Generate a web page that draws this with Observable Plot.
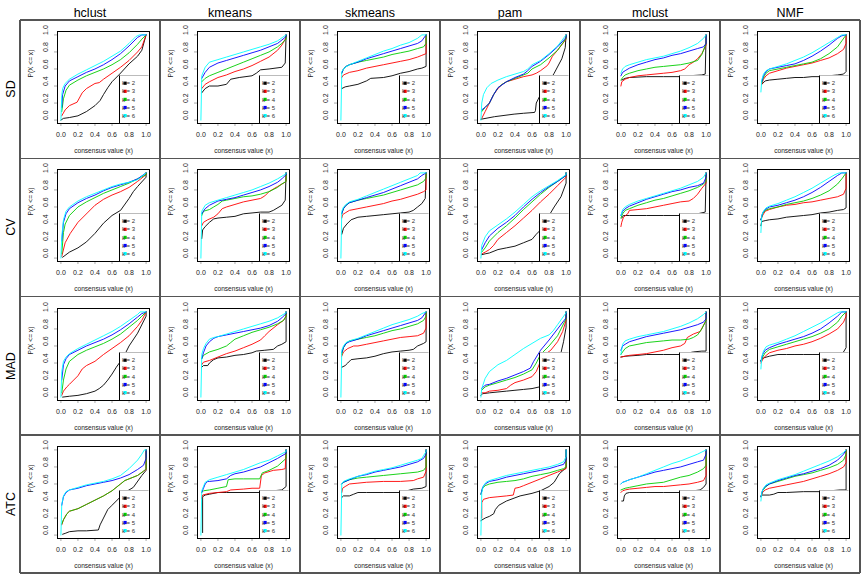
<!DOCTYPE html>
<html><head><meta charset="utf-8">
<script src="https://cdn.jsdelivr.net/npm/d3@7"></script>
<script src="https://cdn.jsdelivr.net/npm/@observablehq/plot@0.6"></script>
<style>
body{margin:0;background:#fff;}
#chart{position:relative;width:864px;height:576px;font-family:"Liberation Sans",Arial,Helvetica,sans-serif;overflow:hidden;background:#fff}
.hdr{position:absolute;top:3px;width:140px;text-align:center;font-size:12.5px;line-height:20px;color:#000}
.rowlab{position:absolute;left:11px;transform:translate(-50%,-50%) rotate(-90deg);white-space:nowrap;font-size:12.5px;color:#000}
.cell{position:absolute}
.gl{position:absolute;background:#555}
</style></head><body><div id="chart"></div>
<script>
const methods = ["hclust","kmeans","skmeans","pam","mclust","NMF"];
const partitions = ["SD","CV","MAD","ATC"];
const ks = [2,3,4,5,6];
const colors = ["#000000","#FF0000","#00CD00","#0000FF","#00FFFF"];
const xTicks = [0,0.2,0.4,0.6,0.8,1.0];
const yTicks = [0,0.2,0.4,0.6,0.8,1.0];
const xLabel = "consensus value (x)";
const yLabel = "P(X <= x)";

// Each panel: 5 curves (k = 2..6), flat x,y pairs
const SD_hclust = [
 [0,0, 0.03,0.02, 0.1,0.03, 0.2,0.05, 0.3,0.1, 0.4,0.17, 0.46,0.23, 0.5,0.3, 0.55,0.38, 0.6,0.45, 0.69,0.54, 0.8,0.66, 0.9,0.75, 0.95,0.82, 1,1],
 [0.01,0.05, 0.05,0.12, 0.1,0.17, 0.19,0.21, 0.25,0.32, 0.3,0.37, 0.4,0.43, 0.45,0.44, 0.5,0.48, 0.6,0.55, 0.7,0.62, 0.8,0.7, 0.9,0.8, 0.95,0.86, 1,1],
 [0.01,0.1, 0.03,0.25, 0.06,0.35, 0.1,0.41, 0.2,0.47, 0.3,0.52, 0.4,0.56, 0.5,0.6, 0.6,0.65, 0.7,0.71, 0.8,0.79, 0.9,0.89, 0.95,0.95, 1,1],
 [0.01,0.15, 0.02,0.3, 0.05,0.4, 0.1,0.46, 0.2,0.51, 0.3,0.56, 0.4,0.6, 0.5,0.65, 0.6,0.71, 0.7,0.78, 0.8,0.87, 0.9,0.97, 0.95,1, 1,1],
 [0,0, 0.01,0.29, 0.02,0.37, 0.05,0.43, 0.1,0.48, 0.2,0.54, 0.3,0.59, 0.4,0.64, 0.5,0.69, 0.6,0.75, 0.7,0.81, 0.8,0.9, 0.88,0.98, 0.92,1, 1,1]
];
const SD_kmeans = [
 [0.01,0.32, 0.05,0.37, 0.1,0.4, 0.2,0.4, 0.3,0.42, 0.35,0.48, 0.45,0.5, 0.6,0.52, 0.65,0.55, 0.7,0.59, 0.8,0.6, 0.95,0.62, 0.99,0.67, 1,1],
 [0.01,0.37, 0.05,0.42, 0.1,0.45, 0.2,0.5, 0.3,0.53, 0.4,0.57, 0.5,0.6, 0.6,0.64, 0.7,0.69, 0.8,0.74, 0.9,0.82, 0.95,0.88, 1,0.97, 1,1],
 [0.01,0.45, 0.05,0.49, 0.1,0.52, 0.2,0.56, 0.3,0.6, 0.4,0.64, 0.5,0.68, 0.6,0.72, 0.7,0.76, 0.8,0.8, 0.9,0.86, 0.95,0.9, 1,0.95, 1,1],
 [0.01,0.49, 0.05,0.56, 0.1,0.62, 0.2,0.67, 0.3,0.7, 0.4,0.73, 0.5,0.76, 0.6,0.79, 0.7,0.82, 0.8,0.86, 0.9,0.9, 1,0.98, 1,1],
 [0,0, 0.01,0.52, 0.05,0.62, 0.1,0.68, 0.2,0.71, 0.3,0.74, 0.4,0.77, 0.5,0.8, 0.6,0.83, 0.7,0.86, 0.8,0.89, 0.9,0.93, 1,1]
];
const SD_skmeans = [
 [0.01,0.37, 0.05,0.39, 0.1,0.4, 0.2,0.42, 0.3,0.46, 0.35,0.49, 0.5,0.5, 0.6,0.52, 0.7,0.55, 0.8,0.57, 0.9,0.6, 0.95,0.61, 1,0.63, 1,1],
 [0.01,0.5, 0.03,0.53, 0.1,0.56, 0.2,0.58, 0.3,0.61, 0.4,0.63, 0.5,0.65, 0.6,0.67, 0.7,0.69, 0.8,0.71, 0.9,0.74, 0.95,0.76, 1,0.78, 1,1],
 [0.01,0.55, 0.03,0.6, 0.06,0.63, 0.1,0.65, 0.2,0.68, 0.3,0.7, 0.4,0.72, 0.5,0.74, 0.6,0.77, 0.7,0.79, 0.8,0.81, 0.9,0.84, 0.97,0.86, 1,0.9, 1,1],
 [0.01,0.55, 0.03,0.6, 0.06,0.63, 0.1,0.65, 0.2,0.68, 0.3,0.72, 0.4,0.75, 0.5,0.78, 0.6,0.81, 0.7,0.84, 0.8,0.87, 0.9,0.9, 0.95,0.93, 1,1],
 [0,0, 0.01,0.57, 0.05,0.62, 0.1,0.65, 0.2,0.69, 0.3,0.73, 0.4,0.77, 0.5,0.81, 0.6,0.84, 0.7,0.88, 0.8,0.91, 0.9,0.96, 0.95,1, 1,1]
];
const SD_pam = [
 [0,0.01, 0.16,0.04, 0.39,0.07, 0.5,0.08, 0.63,0.09, 0.64,0.11, 0.65,0.2, 0.7,0.3, 0.8,0.45, 0.86,0.55, 0.95,0.72, 0.99,0.85, 1,1],
 [0.01,0.02, 0.05,0.1, 0.1,0.2, 0.15,0.3, 0.2,0.37, 0.25,0.42, 0.3,0.45, 0.4,0.48, 0.5,0.51, 0.6,0.53, 0.65,0.55, 0.7,0.58, 0.78,0.64, 0.8,0.67, 0.84,0.75, 0.9,0.82, 1,0.95, 1,1],
 [0.01,0.1, 0.05,0.15, 0.1,0.2, 0.15,0.3, 0.2,0.38, 0.25,0.42, 0.3,0.45, 0.4,0.49, 0.5,0.53, 0.55,0.55, 0.6,0.6, 0.7,0.65, 0.8,0.73, 0.9,0.82, 1,0.96, 1,1],
 [0.01,0.12, 0.05,0.15, 0.1,0.2, 0.15,0.3, 0.2,0.38, 0.3,0.45, 0.4,0.5, 0.5,0.54, 0.55,0.58, 0.6,0.63, 0.7,0.69, 0.8,0.77, 0.9,0.86, 1,0.97, 1,1],
 [0,0, 0.01,0.2, 0.03,0.3, 0.07,0.38, 0.12,0.43, 0.2,0.47, 0.3,0.51, 0.4,0.54, 0.5,0.57, 0.55,0.6, 0.6,0.65, 0.7,0.7, 0.8,0.78, 0.9,0.87, 1,1]
];
const SD_mclust = [
 [0.01,0.47, 0.05,0.49, 0.1,0.5, 0.3,0.51, 0.5,0.51, 0.7,0.51, 0.8,0.52, 0.95,0.53, 0.99,0.54, 1,1],
 [0,0.4, 0.01,0.45, 0.05,0.48, 0.1,0.5, 0.2,0.52, 0.3,0.53, 0.4,0.54, 0.5,0.55, 0.6,0.56, 0.7,0.58, 0.75,0.6, 0.8,0.65, 0.85,0.68, 0.9,0.72, 0.95,0.78, 1,0.88, 1,1],
 [0,0.47, 0.02,0.5, 0.05,0.53, 0.1,0.55, 0.2,0.58, 0.3,0.6, 0.4,0.62, 0.5,0.63, 0.6,0.64, 0.7,0.65, 0.8,0.67, 0.9,0.7, 0.95,0.77, 1,0.9, 1,1],
 [0,0.52, 0.02,0.56, 0.05,0.58, 0.1,0.61, 0.2,0.65, 0.3,0.68, 0.4,0.71, 0.5,0.73, 0.6,0.76, 0.7,0.78, 0.8,0.81, 0.9,0.84, 0.97,0.86, 1,0.9, 1,1],
 [0,0.55, 0.02,0.6, 0.05,0.63, 0.1,0.65, 0.2,0.68, 0.3,0.71, 0.4,0.73, 0.5,0.75, 0.6,0.78, 0.7,0.81, 0.8,0.85, 0.9,0.9, 0.97,0.96, 1,1]
];
const SD_NMF = [
 [0.01,0.42, 0.05,0.46, 0.1,0.47, 0.2,0.48, 0.3,0.49, 0.4,0.5, 0.5,0.5, 0.6,0.51, 0.7,0.51, 0.8,0.52, 0.9,0.53, 0.97,0.54, 1,0.57, 1,1],
 [0.01,0.42, 0.03,0.48, 0.06,0.52, 0.1,0.55, 0.2,0.58, 0.3,0.61, 0.4,0.63, 0.5,0.65, 0.6,0.67, 0.7,0.7, 0.8,0.73, 0.9,0.78, 0.97,0.83, 1,0.9, 1,1],
 [0.01,0.44, 0.03,0.5, 0.06,0.55, 0.1,0.58, 0.2,0.6, 0.3,0.62, 0.4,0.64, 0.5,0.66, 0.6,0.68, 0.7,0.72, 0.8,0.78, 0.9,0.86, 0.95,0.93, 1,1],
 [0.01,0.45, 0.03,0.52, 0.06,0.57, 0.1,0.6, 0.2,0.62, 0.3,0.64, 0.4,0.66, 0.5,0.7, 0.6,0.75, 0.7,0.81, 0.8,0.88, 0.9,0.96, 0.95,0.99, 1,1],
 [0,0.33, 0.01,0.47, 0.03,0.54, 0.06,0.58, 0.1,0.6, 0.2,0.63, 0.3,0.66, 0.4,0.7, 0.5,0.74, 0.6,0.79, 0.7,0.85, 0.8,0.91, 0.9,0.97, 0.95,1, 1,1]
];
const CV_hclust = [
 [0.02,0.01, 0.1,0.07, 0.2,0.12, 0.3,0.19, 0.4,0.29, 0.5,0.41, 0.6,0.5, 0.7,0.56, 0.8,0.7, 0.85,0.78, 0.9,0.84, 1,0.95, 1,1],
 [0.01,0.02, 0.05,0.18, 0.11,0.29, 0.2,0.42, 0.31,0.53, 0.4,0.62, 0.5,0.69, 0.6,0.74, 0.7,0.78, 0.8,0.83, 0.9,0.9, 1,0.98, 1,1],
 [0.01,0.05, 0.03,0.3, 0.05,0.4, 0.1,0.5, 0.2,0.6, 0.3,0.66, 0.4,0.71, 0.5,0.76, 0.6,0.8, 0.7,0.84, 0.8,0.88, 0.9,0.93, 1,0.98, 1,1],
 [0.01,0.2, 0.03,0.42, 0.06,0.52, 0.1,0.58, 0.2,0.65, 0.3,0.7, 0.4,0.74, 0.5,0.79, 0.6,0.83, 0.7,0.86, 0.8,0.89, 0.9,0.93, 1,1],
 [0,0, 0.01,0.25, 0.03,0.45, 0.06,0.55, 0.1,0.6, 0.2,0.67, 0.3,0.72, 0.4,0.76, 0.5,0.8, 0.6,0.84, 0.7,0.87, 0.8,0.89, 0.9,0.92, 1,1]
];
const CV_kmeans = [
 [0.01,0.23, 0.02,0.33, 0.05,0.37, 0.1,0.42, 0.15,0.46, 0.2,0.47, 0.3,0.48, 0.4,0.49, 0.5,0.52, 0.6,0.53, 0.7,0.54, 0.8,0.54, 0.85,0.56, 0.95,0.62, 0.99,0.68, 1,1],
 [0.01,0.38, 0.03,0.42, 0.08,0.45, 0.15,0.48, 0.2,0.52, 0.25,0.58, 0.3,0.6, 0.4,0.63, 0.5,0.66, 0.6,0.68, 0.7,0.7, 0.75,0.73, 0.8,0.78, 0.9,0.84, 0.97,0.88, 1,0.9, 1,1],
 [0.01,0.5, 0.03,0.55, 0.1,0.57, 0.15,0.6, 0.2,0.63, 0.25,0.67, 0.3,0.68, 0.4,0.7, 0.5,0.72, 0.6,0.73, 0.7,0.75, 0.8,0.78, 0.9,0.83, 0.95,0.87, 1,0.9, 1,1],
 [0.01,0.52, 0.05,0.58, 0.1,0.62, 0.2,0.67, 0.3,0.69, 0.4,0.71, 0.5,0.74, 0.6,0.77, 0.7,0.8, 0.8,0.84, 0.9,0.89, 0.95,0.93, 1,0.98, 1,1],
 [0,0, 0.01,0.55, 0.05,0.62, 0.1,0.65, 0.2,0.68, 0.3,0.71, 0.4,0.74, 0.5,0.77, 0.6,0.8, 0.7,0.84, 0.8,0.88, 0.9,0.93, 1,0.99, 1,1]
];
const CV_skmeans = [
 [0.01,0.28, 0.03,0.35, 0.07,0.4, 0.12,0.45, 0.2,0.48, 0.3,0.49, 0.4,0.5, 0.5,0.51, 0.6,0.52, 0.7,0.53, 0.8,0.54, 0.85,0.56, 0.9,0.6, 0.95,0.64, 0.99,0.7, 1,1],
 [0.01,0.47, 0.02,0.51, 0.05,0.53, 0.1,0.56, 0.2,0.58, 0.3,0.6, 0.4,0.62, 0.5,0.64, 0.6,0.67, 0.7,0.69, 0.8,0.72, 0.9,0.75, 0.97,0.78, 1,0.8, 1,1],
 [0.01,0.52, 0.03,0.58, 0.06,0.62, 0.1,0.65, 0.2,0.68, 0.3,0.7, 0.4,0.72, 0.5,0.74, 0.6,0.77, 0.7,0.8, 0.8,0.83, 0.9,0.86, 0.97,0.9, 1,0.94, 1,1],
 [0.01,0.52, 0.03,0.58, 0.06,0.62, 0.1,0.65, 0.2,0.68, 0.3,0.71, 0.4,0.74, 0.5,0.77, 0.6,0.81, 0.7,0.85, 0.8,0.89, 0.9,0.93, 0.95,0.97, 1,1],
 [0,0, 0.01,0.55, 0.03,0.6, 0.06,0.63, 0.1,0.66, 0.2,0.69, 0.3,0.73, 0.4,0.77, 0.5,0.81, 0.6,0.85, 0.7,0.89, 0.8,0.93, 0.9,0.97, 0.93,1, 1,1]
];
const CV_pam = [
 [0.01,0.04, 0.05,0.05, 0.1,0.06, 0.2,0.1, 0.3,0.12, 0.4,0.14, 0.5,0.18, 0.6,0.22, 0.65,0.28, 0.7,0.33, 0.75,0.42, 0.8,0.5, 0.86,0.6, 0.94,0.72, 1,0.88, 1,1],
 [0.01,0.05, 0.05,0.07, 0.1,0.1, 0.15,0.15, 0.2,0.22, 0.3,0.3, 0.4,0.38, 0.5,0.47, 0.6,0.56, 0.7,0.66, 0.8,0.75, 0.9,0.85, 1,0.95, 1,1],
 [0.01,0.07, 0.05,0.12, 0.1,0.2, 0.2,0.3, 0.3,0.38, 0.4,0.47, 0.5,0.57, 0.6,0.66, 0.7,0.75, 0.8,0.83, 0.9,0.9, 1,0.97, 1,1],
 [0.01,0.1, 0.05,0.18, 0.1,0.26, 0.2,0.35, 0.3,0.42, 0.4,0.5, 0.5,0.6, 0.6,0.69, 0.7,0.77, 0.8,0.84, 0.9,0.9, 1,0.97, 1,1],
 [0,0, 0.01,0.15, 0.05,0.25, 0.1,0.32, 0.2,0.39, 0.3,0.46, 0.4,0.54, 0.5,0.63, 0.6,0.72, 0.7,0.79, 0.8,0.85, 0.9,0.91, 1,0.98, 1,1]
];
const CV_mclust = [
 [0.01,0.47, 0.03,0.5, 0.1,0.5, 0.3,0.5, 0.5,0.5, 0.7,0.5, 0.9,0.52, 0.99,0.54, 1,1],
 [0,0.37, 0.01,0.42, 0.03,0.48, 0.08,0.52, 0.1,0.56, 0.2,0.57, 0.3,0.58, 0.4,0.6, 0.5,0.62, 0.6,0.64, 0.7,0.66, 0.8,0.67, 0.85,0.7, 0.9,0.75, 0.95,0.82, 1,0.88, 1,1],
 [0,0.47, 0.02,0.52, 0.05,0.56, 0.1,0.58, 0.2,0.62, 0.3,0.65, 0.4,0.68, 0.5,0.7, 0.6,0.73, 0.7,0.76, 0.8,0.79, 0.9,0.83, 0.97,0.87, 1,0.9, 1,1],
 [0,0.5, 0.02,0.55, 0.05,0.58, 0.1,0.61, 0.2,0.65, 0.3,0.69, 0.4,0.72, 0.5,0.75, 0.6,0.78, 0.7,0.8, 0.8,0.83, 0.9,0.85, 0.97,0.88, 1,0.95, 1,1],
 [0,0.5, 0.02,0.57, 0.05,0.6, 0.1,0.63, 0.2,0.67, 0.3,0.7, 0.4,0.73, 0.5,0.76, 0.6,0.79, 0.7,0.82, 0.8,0.86, 0.9,0.9, 0.97,0.95, 1,1]
];
const CV_NMF = [
 [0,0.38, 0.01,0.43, 0.05,0.44, 0.1,0.45, 0.2,0.46, 0.3,0.48, 0.4,0.49, 0.5,0.5, 0.6,0.51, 0.7,0.53, 0.8,0.54, 0.9,0.56, 0.97,0.57, 1,0.59, 1,1],
 [0,0.45, 0.02,0.5, 0.05,0.55, 0.1,0.57, 0.2,0.6, 0.3,0.62, 0.4,0.63, 0.5,0.65, 0.6,0.66, 0.7,0.68, 0.8,0.7, 0.9,0.72, 0.97,0.75, 1,0.82, 1,1],
 [0,0.45, 0.02,0.52, 0.05,0.56, 0.1,0.58, 0.2,0.6, 0.3,0.63, 0.4,0.65, 0.5,0.67, 0.6,0.7, 0.7,0.74, 0.8,0.79, 0.9,0.87, 0.95,0.93, 1,1],
 [0,0.45, 0.02,0.53, 0.05,0.57, 0.1,0.6, 0.2,0.62, 0.3,0.65, 0.4,0.68, 0.5,0.72, 0.6,0.77, 0.7,0.83, 0.8,0.9, 0.9,0.97, 0.95,1, 1,1],
 [0,0.3, 0.01,0.5, 0.03,0.55, 0.06,0.59, 0.1,0.61, 0.2,0.64, 0.3,0.68, 0.4,0.72, 0.5,0.77, 0.6,0.82, 0.7,0.88, 0.8,0.94, 0.87,0.98, 0.92,1, 1,1]
];
const MAD_hclust = [
 [0.02,0, 0.1,0.01, 0.2,0.02, 0.3,0.04, 0.4,0.07, 0.45,0.1, 0.5,0.14, 0.55,0.2, 0.6,0.27, 0.65,0.35, 0.7,0.42, 0.75,0.5, 0.8,0.6, 0.9,0.75, 1,0.95, 1,1],
 [0.01,0.02, 0.03,0.07, 0.07,0.12, 0.1,0.15, 0.15,0.2, 0.2,0.25, 0.25,0.33, 0.3,0.37, 0.4,0.42, 0.5,0.5, 0.6,0.57, 0.7,0.64, 0.8,0.72, 0.9,0.83, 0.95,0.9, 1,1],
 [0.01,0.05, 0.03,0.2, 0.06,0.33, 0.1,0.42, 0.2,0.5, 0.3,0.55, 0.4,0.59, 0.5,0.63, 0.6,0.68, 0.7,0.74, 0.8,0.82, 0.9,0.9, 0.95,0.95, 1,1],
 [0.01,0.2, 0.03,0.38, 0.06,0.45, 0.1,0.5, 0.2,0.55, 0.3,0.6, 0.4,0.64, 0.5,0.68, 0.6,0.73, 0.7,0.79, 0.8,0.86, 0.9,0.94, 0.95,0.98, 1,1],
 [0,0, 0.01,0.3, 0.03,0.42, 0.06,0.47, 0.1,0.51, 0.2,0.57, 0.3,0.62, 0.4,0.67, 0.5,0.72, 0.6,0.77, 0.7,0.83, 0.8,0.9, 0.9,0.97, 0.93,1, 1,1]
];
const MAD_kmeans = [
 [0.01,0.35, 0.03,0.37, 0.08,0.37, 0.1,0.4, 0.15,0.44, 0.2,0.46, 0.3,0.47, 0.4,0.49, 0.5,0.5, 0.6,0.52, 0.65,0.54, 0.75,0.55, 0.85,0.56, 0.9,0.6, 0.95,0.62, 1,0.65, 1,1],
 [0.01,0.38, 0.03,0.41, 0.1,0.43, 0.2,0.47, 0.3,0.51, 0.4,0.54, 0.5,0.58, 0.6,0.62, 0.7,0.67, 0.75,0.72, 0.8,0.77, 0.9,0.85, 0.97,0.9, 1,0.95, 1,1],
 [0.01,0.45, 0.03,0.49, 0.1,0.53, 0.2,0.56, 0.3,0.6, 0.35,0.64, 0.4,0.68, 0.5,0.72, 0.6,0.76, 0.7,0.79, 0.8,0.82, 0.9,0.86, 0.97,0.9, 1,0.95, 1,1],
 [0.01,0.45, 0.03,0.52, 0.06,0.6, 0.1,0.65, 0.15,0.69, 0.2,0.71, 0.3,0.73, 0.4,0.75, 0.5,0.77, 0.6,0.79, 0.7,0.81, 0.8,0.84, 0.9,0.89, 0.95,0.93, 1,0.98, 1,1],
 [0,0, 0.01,0.5, 0.03,0.57, 0.06,0.63, 0.1,0.68, 0.15,0.7, 0.2,0.71, 0.3,0.74, 0.4,0.77, 0.5,0.8, 0.6,0.83, 0.7,0.86, 0.8,0.89, 0.9,0.93, 1,0.99, 1,1]
];
const MAD_skmeans = [
 [0.01,0.35, 0.05,0.37, 0.08,0.4, 0.12,0.44, 0.2,0.45, 0.3,0.46, 0.4,0.48, 0.5,0.51, 0.6,0.53, 0.7,0.54, 0.8,0.55, 0.85,0.56, 0.9,0.6, 0.97,0.63, 1,0.65, 1,1],
 [0.01,0.48, 0.03,0.53, 0.08,0.57, 0.15,0.6, 0.2,0.6, 0.3,0.62, 0.4,0.64, 0.5,0.66, 0.6,0.68, 0.7,0.7, 0.8,0.71, 0.9,0.72, 0.97,0.75, 1,0.81, 1,1],
 [0.01,0.5, 0.03,0.58, 0.06,0.63, 0.1,0.66, 0.2,0.68, 0.3,0.7, 0.4,0.72, 0.5,0.75, 0.6,0.78, 0.7,0.8, 0.8,0.83, 0.9,0.86, 0.97,0.9, 1,0.95, 1,1],
 [0.01,0.52, 0.03,0.58, 0.06,0.63, 0.1,0.65, 0.2,0.68, 0.3,0.72, 0.4,0.75, 0.5,0.78, 0.6,0.81, 0.7,0.84, 0.8,0.87, 0.9,0.9, 0.95,0.93, 1,1],
 [0,0, 0.01,0.55, 0.03,0.6, 0.06,0.64, 0.1,0.66, 0.2,0.69, 0.3,0.73, 0.4,0.77, 0.5,0.81, 0.6,0.85, 0.7,0.88, 0.8,0.91, 0.9,0.95, 0.95,0.98, 1,1]
];
const MAD_pam = [
 [0,0.02, 0.02,0.04, 0.1,0.05, 0.2,0.06, 0.3,0.07, 0.4,0.08, 0.5,0.09, 0.6,0.1, 0.69,0.12, 0.8,0.2, 0.9,0.35, 0.94,0.52, 0.97,0.65, 1,0.82, 1,1],
 [0.01,0.05, 0.05,0.05, 0.1,0.07, 0.2,0.08, 0.3,0.1, 0.35,0.14, 0.4,0.17, 0.5,0.2, 0.6,0.24, 0.65,0.3, 0.7,0.42, 0.75,0.5, 0.82,0.55, 0.9,0.65, 0.96,0.77, 1,0.9, 1,1],
 [0.01,0.08, 0.05,0.12, 0.1,0.14, 0.2,0.17, 0.3,0.2, 0.4,0.23, 0.5,0.27, 0.6,0.32, 0.65,0.4, 0.7,0.5, 0.8,0.6, 0.9,0.72, 1,0.92, 1,1],
 [0.01,0.1, 0.05,0.14, 0.1,0.15, 0.2,0.19, 0.3,0.22, 0.4,0.26, 0.5,0.3, 0.58,0.34, 0.62,0.42, 0.7,0.55, 0.8,0.67, 0.9,0.8, 1,0.93, 1,1],
 [0,0, 0.01,0.1, 0.05,0.22, 0.1,0.3, 0.2,0.38, 0.3,0.43, 0.4,0.5, 0.5,0.57, 0.6,0.63, 0.7,0.69, 0.8,0.73, 0.85,0.78, 0.9,0.85, 1,0.99, 1,1]
];
const MAD_mclust = [
 [0,0.47, 0.05,0.48, 0.2,0.49, 0.3,0.5, 0.5,0.5, 0.7,0.5, 0.85,0.53, 0.95,0.54, 1,0.54, 1,1],
 [0,0.47, 0.05,0.48, 0.1,0.49, 0.2,0.5, 0.3,0.51, 0.4,0.53, 0.5,0.55, 0.6,0.58, 0.7,0.6, 0.75,0.63, 0.78,0.7, 0.85,0.74, 0.93,0.77, 1,0.9, 1,1],
 [0,0.5, 0.02,0.53, 0.05,0.57, 0.1,0.6, 0.2,0.62, 0.3,0.64, 0.4,0.65, 0.5,0.66, 0.6,0.67, 0.7,0.67, 0.8,0.68, 0.85,0.7, 0.9,0.73, 0.95,0.8, 1,0.9, 1,1],
 [0,0.55, 0.02,0.6, 0.05,0.62, 0.1,0.65, 0.2,0.68, 0.3,0.71, 0.4,0.73, 0.5,0.75, 0.6,0.77, 0.7,0.79, 0.8,0.82, 0.9,0.85, 0.97,0.88, 1,0.92, 1,1],
 [0,0.5, 0.02,0.62, 0.05,0.66, 0.1,0.68, 0.2,0.71, 0.3,0.73, 0.4,0.75, 0.5,0.77, 0.6,0.8, 0.7,0.83, 0.8,0.87, 0.9,0.92, 0.97,0.97, 1,1]
];
const MAD_NMF = [
 [0,0.43, 0.03,0.46, 0.1,0.48, 0.2,0.5, 0.3,0.5, 0.4,0.5, 0.5,0.5, 0.6,0.5, 0.7,0.5, 0.93,0.5, 0.97,0.53, 1,0.58, 1,1],
 [0,0.4, 0.02,0.44, 0.05,0.48, 0.1,0.52, 0.2,0.55, 0.3,0.57, 0.4,0.6, 0.5,0.62, 0.6,0.65, 0.7,0.69, 0.8,0.74, 0.9,0.8, 0.97,0.88, 1,0.95, 1,1],
 [0,0.42, 0.02,0.47, 0.05,0.52, 0.1,0.56, 0.2,0.59, 0.3,0.62, 0.4,0.65, 0.5,0.68, 0.6,0.71, 0.7,0.75, 0.8,0.8, 0.9,0.88, 0.95,0.95, 1,1],
 [0,0.42, 0.02,0.5, 0.05,0.55, 0.1,0.58, 0.2,0.62, 0.3,0.65, 0.4,0.68, 0.5,0.71, 0.6,0.75, 0.7,0.8, 0.8,0.87, 0.9,0.95, 0.95,1, 1,1],
 [0,0.33, 0.01,0.47, 0.03,0.54, 0.06,0.59, 0.1,0.61, 0.2,0.64, 0.3,0.68, 0.4,0.72, 0.5,0.77, 0.6,0.82, 0.7,0.87, 0.8,0.93, 0.9,0.99, 0.93,1, 1,1]
];
const ATC_hclust = [
 [0.02,0.01, 0.05,0.02, 0.1,0.04, 0.2,0.05, 0.3,0.05, 0.44,0.06, 0.46,0.12, 0.5,0.2, 0.55,0.3, 0.6,0.35, 0.65,0.4, 0.7,0.45, 0.75,0.5, 0.85,0.56, 0.95,0.7, 1,0.76, 1,1],
 [0.01,0.12, 0.03,0.18, 0.07,0.25, 0.1,0.28, 0.2,0.31, 0.3,0.36, 0.4,0.41, 0.5,0.46, 0.6,0.52, 0.7,0.6, 0.75,0.64, 0.8,0.66, 0.9,0.7, 0.97,0.75, 1,0.77, 1,1],
 [0.01,0.13, 0.03,0.18, 0.07,0.25, 0.1,0.28, 0.2,0.31, 0.3,0.36, 0.4,0.41, 0.5,0.46, 0.6,0.52, 0.7,0.6, 0.75,0.64, 0.8,0.66, 0.9,0.7, 0.97,0.75, 1,0.78, 1,1],
 [0.01,0.35, 0.03,0.45, 0.06,0.5, 0.1,0.53, 0.2,0.55, 0.3,0.58, 0.4,0.6, 0.5,0.62, 0.6,0.64, 0.7,0.67, 0.8,0.71, 0.9,0.77, 0.97,0.82, 1,0.9, 1,1],
 [0,0, 0.01,0.36, 0.03,0.46, 0.06,0.51, 0.1,0.53, 0.2,0.56, 0.3,0.59, 0.4,0.61, 0.5,0.63, 0.6,0.66, 0.7,0.7, 0.8,0.78, 0.9,0.88, 0.95,0.95, 0.98,1, 1,1]
];
const ATC_kmeans = [
 [0.02,0.03, 0.02,0.45, 0.05,0.47, 0.1,0.48, 0.2,0.5, 0.3,0.5, 0.7,0.5, 0.85,0.52, 0.95,0.53, 1,0.57, 1,1],
 [0.01,0.43, 0.02,0.47, 0.1,0.49, 0.2,0.5, 0.3,0.51, 0.35,0.53, 0.5,0.54, 0.6,0.55, 0.69,0.55, 0.71,0.7, 0.75,0.73, 0.85,0.76, 0.95,0.77, 0.99,0.78, 1,1],
 [0.01,0.5, 0.03,0.52, 0.1,0.53, 0.2,0.55, 0.3,0.57, 0.32,0.65, 0.4,0.66, 0.5,0.66, 0.6,0.66, 0.69,0.66, 0.72,0.73, 0.8,0.76, 0.9,0.81, 1,0.9, 1,1],
 [0.01,0.5, 0.03,0.55, 0.05,0.6, 0.08,0.63, 0.1,0.63, 0.2,0.64, 0.3,0.66, 0.35,0.7, 0.4,0.72, 0.5,0.74, 0.6,0.77, 0.7,0.8, 0.8,0.85, 0.9,0.9, 1,0.96, 1,1],
 [0,0, 0.01,0.52, 0.05,0.62, 0.1,0.65, 0.2,0.68, 0.3,0.71, 0.4,0.74, 0.5,0.77, 0.6,0.81, 0.7,0.85, 0.8,0.88, 0.9,0.93, 1,0.98, 1,1]
];
const ATC_skmeans = [
 [0.01,0.44, 0.03,0.46, 0.1,0.46, 0.15,0.48, 0.2,0.5, 0.3,0.5, 0.5,0.5, 0.7,0.5, 0.85,0.54, 0.95,0.55, 1,0.57, 1,1],
 [0.01,0.5, 0.02,0.55, 0.05,0.57, 0.1,0.6, 0.2,0.61, 0.3,0.62, 0.5,0.63, 0.7,0.63, 0.85,0.64, 0.9,0.66, 0.97,0.68, 1,0.75, 1,1],
 [0.01,0.6, 0.03,0.62, 0.1,0.65, 0.2,0.67, 0.3,0.68, 0.4,0.69, 0.5,0.7, 0.6,0.71, 0.7,0.72, 0.8,0.73, 0.9,0.74, 0.97,0.76, 1,0.8, 1,1],
 [0.01,0.6, 0.03,0.62, 0.1,0.65, 0.2,0.69, 0.3,0.71, 0.4,0.74, 0.5,0.76, 0.6,0.78, 0.7,0.8, 0.8,0.83, 0.9,0.86, 0.97,0.9, 1,0.95, 1,1],
 [0,0, 0.01,0.6, 0.03,0.63, 0.1,0.66, 0.2,0.69, 0.3,0.72, 0.4,0.75, 0.5,0.77, 0.6,0.79, 0.7,0.82, 0.8,0.85, 0.9,0.88, 0.95,0.9, 1,0.98, 1,1]
];
const ATC_pam = [
 [0,0.17, 0.05,0.2, 0.1,0.22, 0.15,0.25, 0.17,0.3, 0.21,0.35, 0.3,0.4, 0.46,0.46, 0.6,0.49, 0.7,0.52, 0.8,0.57, 0.86,0.62, 0.92,0.72, 1,0.79, 1,1],
 [0.01,0.2, 0.01,0.38, 0.03,0.42, 0.1,0.44, 0.2,0.45, 0.3,0.46, 0.38,0.47, 0.4,0.55, 0.45,0.56, 0.5,0.58, 0.6,0.62, 0.7,0.66, 0.8,0.7, 0.9,0.74, 1,0.78, 1,1],
 [0,0.48, 0.02,0.55, 0.05,0.58, 0.1,0.6, 0.2,0.62, 0.3,0.63, 0.4,0.64, 0.5,0.66, 0.6,0.69, 0.7,0.71, 0.8,0.73, 0.9,0.76, 0.97,0.78, 1,0.8, 1,1],
 [0,0.48, 0.02,0.56, 0.05,0.6, 0.1,0.63, 0.2,0.65, 0.3,0.68, 0.4,0.7, 0.5,0.72, 0.6,0.74, 0.7,0.76, 0.8,0.78, 0.9,0.81, 0.97,0.83, 1,0.88, 1,1],
 [0,0, 0.01,0.5, 0.03,0.58, 0.06,0.62, 0.1,0.64, 0.2,0.67, 0.3,0.7, 0.4,0.72, 0.5,0.74, 0.6,0.76, 0.7,0.78, 0.8,0.8, 0.9,0.83, 0.97,0.86, 1,0.92, 1,1]
];
const ATC_mclust = [
 [0.01,0.4, 0.03,0.4, 0.04,0.46, 0.06,0.49, 0.1,0.5, 0.3,0.5, 0.5,0.5, 0.7,0.5, 0.93,0.53, 0.97,0.56, 1,0.6, 1,1],
 [0,0.5, 0.02,0.52, 0.05,0.53, 0.1,0.54, 0.2,0.55, 0.3,0.56, 0.4,0.57, 0.5,0.57, 0.6,0.58, 0.7,0.59, 0.8,0.6, 0.9,0.62, 0.97,0.64, 1,0.7, 1,1],
 [0,0.53, 0.05,0.55, 0.1,0.56, 0.2,0.58, 0.3,0.6, 0.4,0.61, 0.5,0.62, 0.6,0.65, 0.7,0.68, 0.8,0.7, 0.9,0.74, 0.97,0.78, 1,0.82, 1,1],
 [0,0.6, 0.02,0.62, 0.05,0.63, 0.1,0.65, 0.2,0.68, 0.3,0.71, 0.4,0.74, 0.5,0.76, 0.6,0.78, 0.7,0.8, 0.8,0.83, 0.9,0.86, 0.97,0.88, 1,0.95, 1,1],
 [0,0.6, 0.02,0.62, 0.05,0.63, 0.1,0.65, 0.2,0.68, 0.3,0.72, 0.4,0.76, 0.5,0.8, 0.6,0.84, 0.7,0.87, 0.8,0.91, 0.9,0.95, 1,1]
];
const ATC_NMF = [
 [0.01,0.47, 0.1,0.47, 0.15,0.48, 0.2,0.5, 0.3,0.5, 0.5,0.51, 0.7,0.51, 0.93,0.53, 1,0.53, 1,1],
 [0,0.45, 0.02,0.5, 0.05,0.53, 0.1,0.55, 0.2,0.57, 0.3,0.59, 0.4,0.61, 0.5,0.63, 0.6,0.66, 0.7,0.69, 0.8,0.72, 0.9,0.76, 0.97,0.8, 1,0.85, 1,1],
 [0,0.45, 0.02,0.52, 0.05,0.56, 0.1,0.6, 0.2,0.63, 0.3,0.66, 0.4,0.69, 0.5,0.71, 0.6,0.73, 0.7,0.76, 0.8,0.79, 0.9,0.83, 0.97,0.88, 1,0.95, 1,1],
 [0,0.45, 0.02,0.53, 0.05,0.57, 0.1,0.6, 0.2,0.64, 0.3,0.67, 0.4,0.7, 0.5,0.72, 0.6,0.75, 0.7,0.78, 0.8,0.82, 0.9,0.88, 0.97,0.95, 1,1],
 [0,0.4, 0.01,0.5, 0.03,0.55, 0.06,0.59, 0.1,0.61, 0.2,0.65, 0.3,0.68, 0.4,0.71, 0.5,0.75, 0.6,0.79, 0.7,0.83, 0.8,0.87, 0.9,0.92, 0.97,0.97, 1,1]
];

const panels = {
  SD: [SD_hclust, SD_kmeans, SD_skmeans, SD_pam, SD_mclust, SD_NMF],
  CV: [CV_hclust, CV_kmeans, CV_skmeans, CV_pam, CV_mclust, CV_NMF],
  MAD: [MAD_hclust, MAD_kmeans, MAD_skmeans, MAD_pam, MAD_mclust, MAD_NMF],
  ATC: [ATC_hclust, ATC_kmeans, ATC_skmeans, ATC_pam, ATC_mclust, ATC_NMF]
};

const FONT = '"Liberation Sans", Arial, Helvetica, sans-serif';
const chart = document.getElementById("chart");
const X0 = 20, Y0 = 20, CW = 140, CH = 138.25;
const fmt = d3.format(".1f");

function panel(curves) {
  const rows = [];
  curves.forEach((c, i) => {
    for (let j = 0; j < c.length; j += 2) rows.push({x: c[j], y: c[j + 1], k: ks[i]});
  });
  const W = 140, H = 138, mL = 37, mR = 11, mT = 11, mB = 35;
  const svg = Plot.plot({
    width: W, height: H, marginLeft: mL, marginRight: mR, marginTop: mT, marginBottom: mB,
    style: {background: "transparent", fontFamily: FONT, overflow: "visible"},
    x: {domain: [-0.04, 1.04]},
    y: {domain: [-0.04, 1.04]},
    color: {domain: ks, range: colors},
    marks: [
      Plot.line(rows, {x: "x", y: "y", z: "k", stroke: "k", strokeWidth: 0.9}),
      Plot.axisX({ticks: xTicks, tickSize: 3, tickFormat: () => "", label: null, stroke: "#aaa"}),
      Plot.axisY({ticks: yTicks, tickSize: 3, tickFormat: () => "", label: null, stroke: "#aaa"}),
      Plot.text(xTicks, {x: d => d, frameAnchor: "bottom", dy: 13.5, text: d => fmt(d), fontSize: 7, fill: "#222"}),
      Plot.text(yTicks, {y: d => d, frameAnchor: "left", dx: -12, rotate: -90, text: d => fmt(d), fontSize: 7, fill: "#222"}),
      Plot.text([xLabel], {frameAnchor: "bottom", dy: 29.5, text: d => d, fontSize: 6.6, fill: "#222"}),
      Plot.text([yLabel], {frameAnchor: "left", dx: -27, rotate: -90, text: d => d, fontSize: 6.6, fill: "#222"}),
      Plot.frame({stroke: "#000", strokeWidth: 1})
    ]
  });
  // legend (bottom-right inside the frame)
  const g = d3.select(svg).append("g");
  const lx = 99.5, ly = 55.5, lw = 29, lh = 47;
  g.append("rect").attr("x", lx).attr("y", ly).attr("width", lw).attr("height", lh).attr("fill", "#fff");
  g.append("line").attr("x1", lx).attr("x2", lx + lw).attr("y1", ly).attr("y2", ly).attr("stroke", "#bbb");
  g.append("line").attr("x1", lx).attr("x2", lx).attr("y1", ly).attr("y2", ly + lh + 0.5).attr("stroke", "#000");
  ks.forEach((k, i) => {
    const cy = ly + 7.7 + i * 8.1;
    g.append("rect").attr("x", lx + 4).attr("y", cy - 1.6).attr("width", 3.2).attr("height", 3.2).attr("fill", colors[i]);
    g.append("text").attr("x", lx + 9).attr("y", cy).attr("dy", "0.35em")
      .attr("font-size", 6).attr("font-family", FONT).attr("fill", "#333").text("k = " + k);
  });
  return svg;
}

partitions.forEach((p, r) => {
  methods.forEach((m, c) => {
    const div = document.createElement("div");
    div.className = "cell";
    div.style.left = (X0 + c * CW) + "px";
    div.style.top = (Y0 + r * CH) + "px";
    div.appendChild(panel(panels[p][c]));
    chart.appendChild(div);
  });
});

methods.forEach((m, c) => {
  const d = document.createElement("div");
  d.className = "hdr";
  d.style.left = (X0 + c * CW) + "px";
  d.textContent = m;
  chart.appendChild(d);
});
partitions.forEach((p, r) => {
  const d = document.createElement("div");
  d.className = "rowlab";
  d.style.top = (Y0 + r * CH + CH / 2) + "px";
  d.textContent = p;
  chart.appendChild(d);
});
// grid lines
for (let c = 0; c <= methods.length; c++) {
  const d = document.createElement("div");
  d.className = "gl";
  Object.assign(d.style, {left: (X0 + c * CW - 0.75) + "px", top: Y0 + "px", width: "1.5px", height: (partitions.length * CH) + "px"});
  chart.appendChild(d);
}
for (let r = 0; r <= partitions.length; r++) {
  const d = document.createElement("div");
  d.className = "gl";
  Object.assign(d.style, {left: X0 + "px", top: (Y0 + r * CH - 0.75) + "px", height: "1.5px", width: (methods.length * CW) + "px"});
  chart.appendChild(d);
}
</script></body></html>
